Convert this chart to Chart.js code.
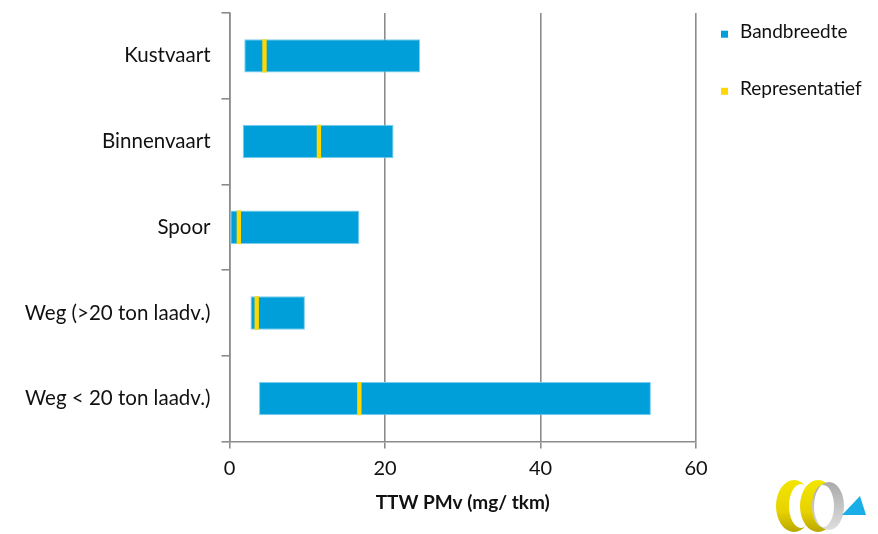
<!DOCTYPE html>
<html>
<head>
<meta charset="utf-8">
<script src="https://cdn.jsdelivr.net/npm/chart.js@4/dist/chart.umd.min.js"></script>
<style>
  html, body { margin: 0; padding: 0; background: #ffffff; }
  #wrap { width: 878px; height: 534px; position: relative; }
</style>
</head>
<body>
<div id="wrap"><canvas id="c" width="878" height="534"></canvas></div>
<script>
// Transport modes (top to bottom)
const categories = ['Kustvaart', 'Binnenvaart', 'Spoor', 'Weg (>20 ton laadv.)', 'Weg < 20 ton laadv.)'];
// Range of TTW PMv emissions per mode (mg/tkm)
const bandMin = [1.9, 1.7, 0.0, 2.7, 3.8];
const bandMax = [24.5, 21.1, 16.7, 9.7, 54.2];
// Representative value per mode (mg/tkm)
const representatief = [4.5, 11.5, 1.2, 3.5, 16.7];
// X axis ticks
const xTicks = [0, 20, 40, 60];

const seriesNames = ['Bandbreedte', 'Representatief'];
const BLUE = '#009FDA';
const YELLOW = '#FFD800';
const GRID = '#8C8C8C';
const FONT = 'Lato, "DejaVu Sans", sans-serif';

// Half width of the marker drawn for the representative value
const MARK_HALF = 0.28;

const bandData = categories.map((_, i) => [bandMin[i], bandMax[i]]);
const repData = representatief.map(v => [v - MARK_HALF, v + MARK_HALF]);

// Legend drawn to the right of the plot
const sideLegend = {
  id: 'sideLegend',
  afterDraw(chart) {
    const ctx = chart.ctx;
    const items = [
      { label: seriesNames[0], color: BLUE, y: 34.2 },
      { label: seriesNames[1], color: YELLOW, y: 91.3 }
    ];
    ctx.save();
    ctx.font = '19px ' + FONT;
    ctx.textBaseline = 'middle';
    ctx.textAlign = 'left';
    items.forEach(it => {
      ctx.fillStyle = it.color;
      ctx.fillRect(721, it.y - 3.5, 7, 7);
      ctx.fillStyle = '#111111';
      ctx.fillText(it.label, 740, it.y - 2.5);
    });
    ctx.restore();
  }
};

// Small emblem in the lower right corner
const emblem = {
  id: 'emblem',
  afterDraw(chart) {
    const ctx = chart.ctx;
    ctx.save();
    const cy = 506;
    function crescent(cx, rx, ry, shift, irx, iry, fill) {
      ctx.beginPath();
      ctx.ellipse(cx, cy, rx, ry, 0, 0, Math.PI * 2);
      ctx.ellipse(cx + shift, cy, irx, iry, 0, 0, Math.PI * 2, true);
      ctx.fillStyle = fill;
      ctx.fill('evenodd');
    }
    const yg = ctx.createLinearGradient(0, 480, 0, 532);
    yg.addColorStop(0, '#F2E600');
    yg.addColorStop(0.6, '#E8D200');
    yg.addColorStop(1, '#B8A800');
    const gg = ctx.createLinearGradient(0, 480, 0, 532);
    gg.addColorStop(0, '#A8A8A8');
    gg.addColorStop(1, '#E0E0E0');
    crescent(794, 18, 26, 7, 12, 22, yg);
    crescent(818, 18, 26, 7, 12, 22, yg);
    crescent(829, 15, 24, -6, 11, 21, gg);
    ctx.beginPath();
    ctx.moveTo(842, 515);
    ctx.lineTo(866, 515);
    ctx.lineTo(860, 496);
    ctx.closePath();
    ctx.fillStyle = '#1AAEE8';
    ctx.fill();
    ctx.restore();
  }
};

new Chart(document.getElementById('c'), {
  type: 'bar',
  data: {
    labels: categories,
    datasets: [
      {
        label: seriesNames[0],
        data: bandData,
        backgroundColor: BLUE,
        borderColor: '#7CCDEE',
        borderWidth: 1,
        borderSkipped: false,
        grouped: false,
        order: 1,
        categoryPercentage: 1,
        barPercentage: 0.39
      },
      {
        label: seriesNames[1],
        data: repData,
        backgroundColor: YELLOW,
        borderWidth: 0,
        grouped: false,
        order: 0,
        categoryPercentage: 1,
        barPercentage: 0.39
      }
    ]
  },
  options: {
    indexAxis: 'y',
    responsive: false,
    animation: false,
    devicePixelRatio: 1,
    layout: { padding: { top: 13, right: 182, left: 0, bottom: 0 } },
    plugins: {
      legend: { display: false },
      tooltip: { enabled: false }
    },
    scales: {
      x: {
        type: 'linear',
        min: 0,
        max: 60,
        afterBuildTicks(scale) { scale.ticks = xTicks.map(v => ({ value: v })); },
        afterFit(scale) { scale.height = 92.5; scale.paddingLeft = 0; scale.paddingRight = 0; },
        grid: {
          color: GRID,
          lineWidth: 1.6,
          drawTicks: true,
          tickLength: 7,
          tickColor: GRID
        },
        border: { display: true, color: GRID, width: 1.6 },
        ticks: {
          padding: 8,
          color: '#111111',
          font: { family: FONT, size: 20 }
        },
        title: {
          display: true,
          text: 'TTW PMv (mg/ tkm)',
          color: '#111111',
          font: { family: FONT, size: 19, weight: 'bold' },
          padding: { top: 0, bottom: 19.6 }
        }
      },
      y: {
        type: 'category',
        afterFit(scale) { scale.width = 229.5; scale.paddingTop = 0; scale.paddingBottom = 0; },
        grid: {
          offset: true,
          drawOnChartArea: false,
          drawTicks: true,
          tickLength: 8,
          color: GRID,
          lineWidth: 1.6
        },
        border: { display: true, color: GRID, width: 1.6 },
        ticks: {
          padding: 11,
          color: '#111111',
          font: { family: FONT, size: 20.5 }
        }
      }
    }
  },
  plugins: [sideLegend, emblem]
});
</script>
</body>
</html>
